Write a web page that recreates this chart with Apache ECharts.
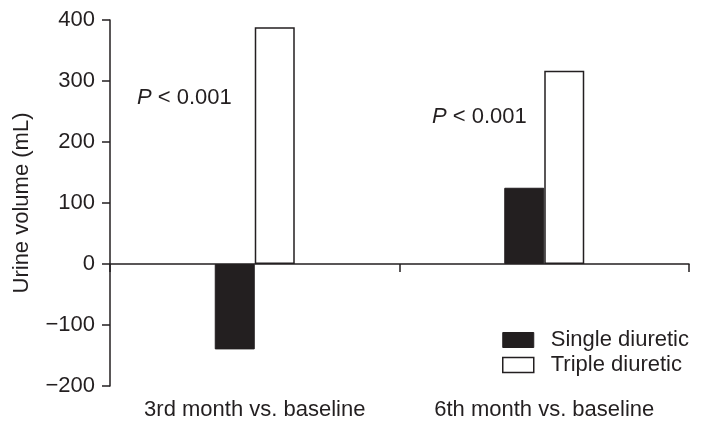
<!DOCTYPE html>
<html>
<head>
<meta charset="utf-8">
<script src="https://cdn.jsdelivr.net/npm/echarts@6/dist/echarts.min.js"></script>
<style>
  html, body { margin: 0; padding: 0; background: #fff; }
  #chart { width: 702px; height: 430px; }
</style>
</head>
<body>
<div id="chart"></div>
<script>
const categories = ['3rd month vs. baseline', '6th month vs. baseline']
const singleDiuretic = [-140, 125]
const tripleDiuretic = [388, 317]
const yTicks = { min: -200, max: 400, interval: 100 }

const ink = '#231f20'
const font = 'Liberation Sans, Arial, sans-serif'
const fs = 22

const chart = echarts.init(document.getElementById('chart'), null, { renderer: 'canvas' })

const pText = {
  text: '{i|P} < 0.001', fill: ink, font: fs + 'px ' + font,
  rich: { i: { fontStyle: 'italic', fontSize: fs, fontFamily: font, fill: ink } },
}

const option = {
  animation: false,
  backgroundColor: '#fff',
  textStyle: { fontFamily: font, color: ink },
  grid: { left: 110, right: 13, top: 20, bottom: 44, containLabel: false },
  legend: {
    orient: 'vertical',
    left: 497, top: 324,
    icon: 'rect',
    itemWidth: 31, itemHeight: 15, itemGap: 3,
    textStyle: { fontSize: fs, color: ink, fontFamily: font, padding: [0, 0, 0, 12] },
    data: [
      { name: 'Single diuretic', itemStyle: { color: ink, borderColor: ink, borderWidth: 1 } },
      { name: 'Triple diuretic', itemStyle: { color: '#fff', borderColor: ink, borderWidth: 1.5 } },
    ],
  },
  xAxis: [
    {
      type: 'category', data: categories,
      axisLine: { onZero: true, lineStyle: { color: ink, width: 1.5 } },
      axisTick: { show: true, length: 8, lineStyle: { color: ink, width: 1.5 } },
      axisLabel: { show: false },
    },
    {
      type: 'category', data: categories, position: 'bottom',
      axisLine: { show: false, onZero: false },
      axisTick: { show: false },
      axisLabel: { show: true, margin: 13, fontSize: fs, color: ink, fontFamily: font },
    },
  ],
  yAxis: {
    type: 'value',
    min: yTicks.min, max: yTicks.max, interval: yTicks.interval,
    name: 'Urine volume (mL)', nameLocation: 'middle', nameGap: 77,
    nameTextStyle: { fontSize: fs, color: ink, fontFamily: font },
    axisLine: { show: true, lineStyle: { color: ink, width: 1.5 } },
    axisTick: { show: true, length: 8, lineStyle: { color: ink, width: 1.5 } },
    axisLabel: {
      margin: 15, fontSize: fs, color: ink, fontFamily: font,
      formatter: v => String(v).replace('-', '\u2212'),
    },
    splitLine: { show: false },
  },
  series: [
    {
      name: 'Single diuretic', type: 'bar', data: singleDiuretic,
      xAxisIndex: 0, barWidth: 40, barGap: '0%',
      itemStyle: { color: ink, borderColor: ink, borderWidth: 1 },
    },
    {
      name: 'Triple diuretic', type: 'bar', data: tripleDiuretic,
      xAxisIndex: 0, barWidth: 40, barGap: '0%',
      itemStyle: { color: '#fff', borderColor: ink, borderWidth: 1.5 },
    },
  ],
  graphic: [
    { type: 'text', left: 137, top: 87, style: pText },
    { type: 'text', left: 432, top: 106, style: pText },
  ],
}

chart.setOption(option)
</script>
</body>
</html>
